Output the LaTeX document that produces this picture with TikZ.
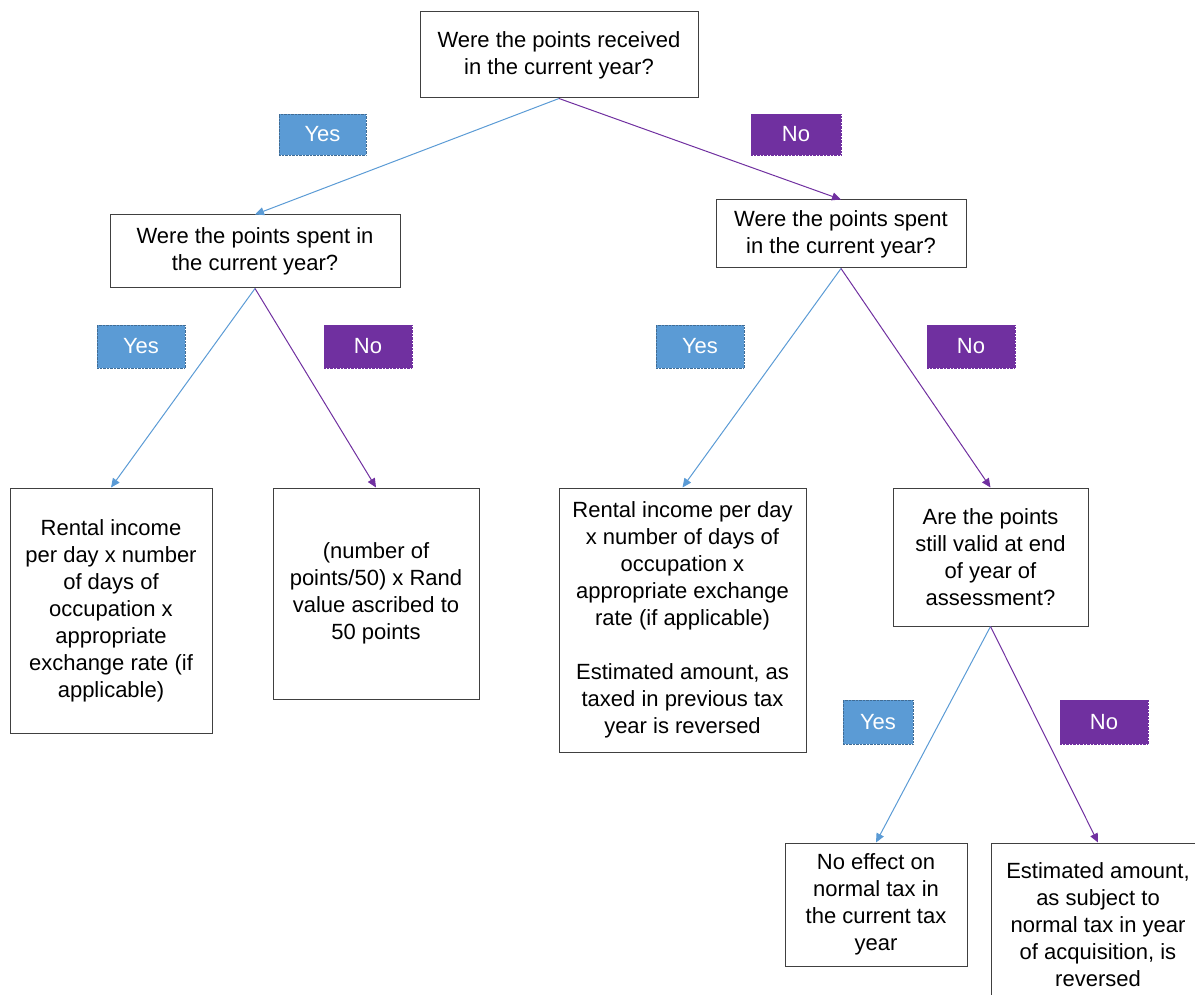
\documentclass[tikz,border=0pt]{standalone}
\usepackage{fontspec}
\setmainfont{Liberation Sans}
\usetikzlibrary{arrows.meta,positioning}
\definecolor{yesblue}{RGB}{91,155,213}
\definecolor{nopurple}{RGB}{112,48,160}

\begin{document}
\begin{tikzpicture}[x=1pt,y=-1pt,
        box/.style={draw=black!75, line width=1pt, fill=white, align=center,
            inner sep=0pt, font=\fontsize{22}{27}\selectfont},
        yeslabel/.style={fill=yesblue, draw=yesblue!70!black, densely dotted, thin,
            text=white, minimum width=88pt, minimum height=43pt, inner sep=0pt,
            font=\fontsize{22}{27}\selectfont},
        nolabel/.style={yeslabel, fill=nopurple, draw=nopurple},
        yesarrow/.style={draw=yesblue, line width=1pt, -{Triangle[length=9pt,width=8pt]}},
        noarrow/.style={draw=nopurple, line width=1pt, -{Triangle[length=9pt,width=8pt]}}]
        \useasboundingbox (0,0) rectangle (1195,995);

        % questions
        \node[box, minimum width=278pt, minimum height=86pt] (received) at (559,55)
            {Were the points received\\in the current year?};
        \node[box, minimum width=290pt, minimum height=73pt] (spentyes) at (255,251.5)
            {Were the points spent in\\the current year?};
        \node[box, minimum width=250pt, minimum height=68pt] (spentno) at (841,234)
            {Were the points spent\\in the current year?};
        \node[box, minimum width=195pt, minimum height=138pt] (valid) at (990.5,557)
            {Are the points\\still valid at end\\of year of\\assessment?};

        % outcomes
        \node[box, minimum width=202pt, minimum height=245pt] (rentalL) at (111,610.5)
            {Rental income\\per day x number\\of days of\\occupation x\\appropriate\\exchange rate (if\\applicable)};
        \node[box, minimum width=206pt, minimum height=211pt] (pointsL) at (376,593.5)
            {(number of\\points/50) x Rand\\value ascribed to\\50 points};
        \node[box, minimum width=247pt, minimum height=264pt] (rentalR) at (682.5,620)
            {Rental income per day\\x number of days of\\occupation x\\appropriate exchange\\rate (if applicable)\\[27pt]Estimated amount, as\\taxed in previous tax\\year is reversed};
        \node[box, minimum width=182pt, minimum height=123pt] (noeffect) at (876,904.5)
            {No effect on\\normal tax in\\the current tax\\year};
        \node[box, minimum width=214pt, minimum height=164pt] (estimated) at (1098,925)
            {Estimated amount,\\as subject to\\normal tax in year\\of acquisition, is\\reversed};

        % yes / no labels
        \node[yeslabel, minimum width=87pt, minimum height=41pt] (yesA) at (322.5,134.5) {Yes};
        \node[nolabel, minimum width=90pt, minimum height=41pt] (noA) at (796,134.5) {No};
        \node[yeslabel] (yesB) at (141,346.5) {Yes};
        \node[nolabel] (noB) at (368,346.5) {No};
        \node[yeslabel] (yesC) at (700,346.5) {Yes};
        \node[nolabel] (noC) at (971,346.5) {No};
        \node[yeslabel, minimum width=70pt, minimum height=44pt] (yesD) at (878,722) {Yes};
        \node[nolabel, minimum height=44pt] (noD) at (1104,722) {No};

        \draw[yesarrow] (received.south) -- (spentyes.north);
        \draw[noarrow] (received.south) -- (spentno.north);
        \draw[yesarrow] (spentyes.south) -- (rentalL.north);
        \draw[noarrow] (spentyes.south) -- (pointsL.north);
        \draw[yesarrow] (spentno.south) -- (rentalR.north);
        \draw[noarrow] (spentno.south) -- (valid.north);
        \draw[yesarrow] (valid.south) -- (noeffect.north);
        \draw[noarrow] (valid.south) -- (estimated.north);
\end{tikzpicture}
\end{document}
